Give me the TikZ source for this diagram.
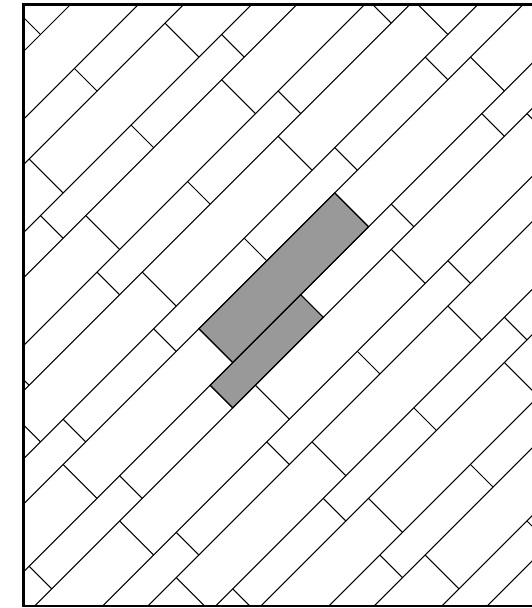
\documentclass[tikz,border=0pt]{standalone}
\usepackage{xcolor}
\usepackage{tikz}
\definecolor{ink}{HTML}{000000}
\definecolor{plankgray}{HTML}{999999}
\tikzset{
  seam/.style={draw=ink,line width=1.05pt},
  plankend/.style={draw=ink,line width=1.05pt},
  marked/.style={fill=plankgray,draw=ink,line width=1.05pt},
  frame/.style={draw=ink,line width=2.6pt}
}

\begin{document}
\begin{tikzpicture}[x=1pt,y=1pt]
  \useasboundingbox (0,0) rectangle (532,608);
  \coordinate (nw) at (23.3,603.7);
  \coordinate (sw) at (23.3,2);
  \coordinate (ne) at (532,603.7);
  \coordinate (se) at (532,2);

  \begin{scope}
    \clip (sw) rectangle (ne);
    \begin{scope}[shift={(40.5,573.5)},rotate=45,yscale=-1,scale=32]
      \filldraw[marked] (-3,10) rectangle (3,11.5);
      \filldraw[marked] (-4,11.5) rectangle (0,12.5);
      \foreach \n in {-1,...,9} {
        \pgfmathsetmacro{\wide}{2.5*\n}
        \pgfmathsetmacro{\narrow}{2.5*\n+1.5}
        \draw[seam] (-17,\wide) -- (17,\wide);
        \draw[seam] (-17,\narrow) -- (17,\narrow);
        \foreach \a in {-15,-9,-3,3,9,15}
          \draw[plankend] (\a,\wide) -- ++(0,1.5);
        \foreach \a in {-16,-12,...,16}
          \draw[plankend] (\a,\narrow) -- ++(0,1);
      }
    \end{scope}
  \end{scope}

  \draw[frame] (ne) -- (nw) -- (sw) -- (se);
\end{tikzpicture}
\end{document}
